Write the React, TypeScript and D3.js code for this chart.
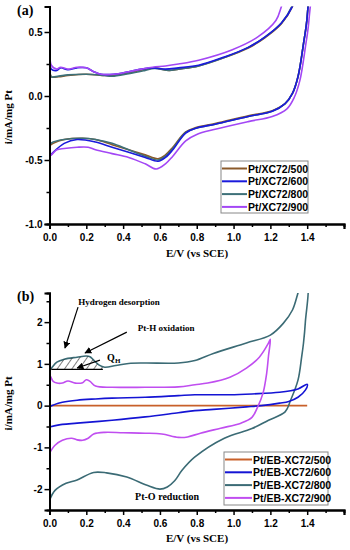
import { useEffect, useRef } from "react";
import * as d3 from "d3";

type Pt = [number, number];

// ---- panel (a): Pt/XC72 series, [E (V vs SCE), i (mA/mg Pt)] ----
const a500: Pt[] = [
  [0, -0.39], [0, 0.2], [0.01, 0.15], [0.05, 0.15], [0.1, 0.16], [0.2, 0.17], [0.3, 0.16],
  [0.34, 0.16], [0.43, 0.18], [0.52, 0.21], [0.57, 0.22], [0.65, 0.2], [0.7, 0.21],
  [0.81, 0.235], [0.95, 0.3], [1.08, 0.375], [1.17, 0.455], [1.26, 0.565], [1.32, 0.7],
  [1.36, 0.9], [1.39, 1.2], [1.41, 1.2], [1.4, 0.62], [1.38, 0.41], [1.35, 0.15],
  [1.32, 0.02], [1.28, -0.06], [1.21, -0.115], [1.08, -0.155], [0.9, -0.215], [0.8, -0.245],
  [0.74, -0.28], [0.67, -0.4], [0.63, -0.46], [0.59, -0.49], [0.52, -0.46], [0.43, -0.42],
  [0.34, -0.38], [0.25, -0.34], [0.18, -0.33], [0.08, -0.34], [0.02, -0.37], [0, -0.39],
];
const a600: Pt[] = [
  [0, -0.47], [0, 0.27], [0.01, 0.21], [0.04, 0.2], [0.06, 0.22], [0.1, 0.205], [0.15, 0.22],
  [0.2, 0.22], [0.24, 0.19], [0.28, 0.17], [0.35, 0.17], [0.43, 0.19], [0.5, 0.21],
  [0.56, 0.22], [0.63, 0.21], [0.7, 0.22], [0.81, 0.24], [0.95, 0.305], [1.08, 0.38],
  [1.17, 0.46], [1.26, 0.57], [1.32, 0.7], [1.36, 0.9], [1.39, 1.2], [1.41, 1.2], [1.4, 0.62],
  [1.38, 0.41], [1.35, 0.15], [1.32, 0.02], [1.28, -0.06], [1.21, -0.12], [1.08, -0.16],
  [0.9, -0.22], [0.8, -0.25], [0.74, -0.29], [0.67, -0.42], [0.63, -0.48], [0.59, -0.51],
  [0.52, -0.48], [0.43, -0.44], [0.34, -0.4], [0.25, -0.36], [0.15, -0.34], [0.08, -0.37],
  [0.02, -0.44], [0, -0.47],
];
const a800: Pt[] = [
  [0, -0.38], [0, 0.19], [0.01, 0.15], [0.05, 0.155], [0.1, 0.165], [0.2, 0.17], [0.3, 0.16],
  [0.34, 0.155], [0.43, 0.175], [0.52, 0.2], [0.57, 0.215], [0.65, 0.2], [0.7, 0.21],
  [0.81, 0.235], [0.95, 0.3], [1.08, 0.38], [1.17, 0.46], [1.26, 0.57], [1.32, 0.71],
  [1.36, 0.9], [1.39, 1.2], [1.41, 1.2], [1.4, 0.62], [1.38, 0.41], [1.35, 0.15],
  [1.32, 0.02], [1.28, -0.06], [1.21, -0.12], [1.08, -0.16], [0.9, -0.22], [0.8, -0.25],
  [0.74, -0.285], [0.67, -0.41], [0.63, -0.47], [0.59, -0.5], [0.52, -0.47], [0.43, -0.42],
  [0.34, -0.37], [0.25, -0.34], [0.18, -0.33], [0.08, -0.34], [0.02, -0.36], [0, -0.38],
];
const a900: Pt[] = [
  [0, -0.47], [0, 0.33], [0.01, 0.24], [0.04, 0.21], [0.06, 0.225], [0.1, 0.21], [0.15, 0.225],
  [0.2, 0.22], [0.24, 0.19], [0.28, 0.17], [0.35, 0.17], [0.43, 0.19], [0.5, 0.21],
  [0.56, 0.225], [0.63, 0.235], [0.7, 0.25], [0.81, 0.28], [0.99, 0.36], [1.13, 0.46],
  [1.23, 0.59], [1.26, 0.7], [1.3, 0.9], [1.34, 1.2], [1.42, 1.2], [1.41, 0.6], [1.39, 0.38],
  [1.36, 0.12], [1.33, -0.01], [1.29, -0.1], [1.21, -0.16], [1.08, -0.2], [0.9, -0.26],
  [0.8, -0.3], [0.74, -0.35], [0.67, -0.47], [0.63, -0.53], [0.58, -0.57], [0.52, -0.53],
  [0.43, -0.48], [0.34, -0.45], [0.25, -0.42], [0.21, -0.4], [0.15, -0.4], [0.08, -0.41],
  [0.04, -0.42], [0.01, -0.46], [0, -0.47],
];

// ---- panel (b): Pt/EB-XC72 series ----
const b500: Pt[] = [[0, 0], [1.4, 0]];
const b600: Pt[] = [
  [0, -0.51], [0, -0.04], [0.03, 0.03], [0.07, 0.08], [0.15, 0.13], [0.25, 0.16], [0.34, 0.18],
  [0.52, 0.2], [0.7, 0.24], [0.79, 0.26], [0.98, 0.26], [1.1, 0.28], [1.25, 0.32], [1.35, 0.4],
  [1.4, 0.51], [1.39, 0.37], [1.35, 0.2], [1.3, 0.1], [1.25, 0.06], [1.15, 0.0], [1.07, -0.03],
  [0.89, -0.09], [0.79, -0.12], [0.7, -0.17], [0.52, -0.27], [0.34, -0.35], [0.15, -0.42],
  [0.07, -0.45], [0, -0.51],
];
const b800: Pt[] = [
  [0, -2.27], [0, 0.8], [0.02, 0.95], [0.04, 1.04], [0.08, 1.11], [0.15, 1.16], [0.2, 1.19],
  [0.22, 1.17], [0.24, 1.09], [0.27, 0.97], [0.3, 0.92], [0.36, 0.96], [0.43, 1.01],
  [0.52, 1.02], [0.7, 1.02], [0.79, 1.08], [0.89, 1.25], [1.07, 1.5], [1.2, 1.69],
  [1.27, 1.97], [1.32, 2.29], [1.35, 2.7], [1.37, 3.0], [1.4, 3.0], [1.39, 2.0], [1.38, 1.5],
  [1.37, 1.17], [1.35, 0.61], [1.31, 0.13], [1.28, -0.15], [1.19, -0.35], [1.1, -0.55],
  [0.95, -0.78], [0.79, -1.23], [0.72, -1.55], [0.68, -1.8], [0.64, -1.95], [0.6, -2.0],
  [0.53, -1.91], [0.42, -1.71], [0.31, -1.61], [0.24, -1.6], [0.15, -1.78], [0.09, -1.86],
  [0.03, -2.03], [0, -2.27],
];
const b900: Pt[] = [
  [0, -1.14], [0, 0.73], [0.02, 0.58], [0.04, 0.54], [0.07, 0.54], [0.1, 0.59], [0.14, 0.54],
  [0.18, 0.55], [0.2, 0.62], [0.22, 0.58], [0.25, 0.47], [0.34, 0.44], [0.52, 0.44],
  [0.7, 0.45], [0.79, 0.5], [0.86, 0.54], [0.98, 0.68], [1.07, 0.9], [1.14, 1.16],
  [1.19, 1.5], [1.2, 1.59], [1.19, 1.2], [1.18, 0.78], [1.16, 0.3], [1.13, -0.04],
  [1.1, -0.28], [1.04, -0.42], [0.93, -0.54], [0.82, -0.66], [0.75, -0.75], [0.7, -0.76],
  [0.61, -0.68], [0.52, -0.66], [0.4, -0.65], [0.3, -0.64], [0.24, -0.68], [0.21, -0.78],
  [0.18, -0.83], [0.15, -0.82], [0.12, -0.78], [0.07, -0.83], [0.03, -0.95], [0, -1.14],
];

// hydrogen desorption charge: baseline current and potential window
const qhBase = 0.87;
const qhRange: [number, number] = [0.01, 0.29];

const labelsA = ["Pt/XC72/500", "Pt/XC72/600", "Pt/XC72/800", "Pt/XC72/900"];
const labelsB = ["Pt/EB-XC72/500", "Pt/EB-XC72/600", "Pt/EB-XC72/800", "Pt/EB-XC72/900"];
const colorsA = ["#8b5a2b", "#1a1adb", "#3d7078", "#a347f5"];
const colorsB = ["#c8602a", "#1414d4", "#3b6b75", "#c04ef0"];

const xTicks = [0, 0.2, 0.4, 0.6, 0.8, 1.0, 1.2, 1.4, 1.6];
const xMinor = [0.1, 0.3, 0.5, 0.7, 0.9, 1.1, 1.3, 1.5];
const yTicksA = [-1.0, -0.5, 0.0, 0.5];
const yMinorA = [-0.75, -0.25, 0.25];
const yTicksB = [-2, -1, 0, 1, 2];
const yMinorB = [-1.5, -0.5, 0.5, 1.5, 2.5];

const SANS = "'Liberation Sans', Arial, sans-serif";
const SERIF = "'Liberation Serif', 'Times New Roman', serif";

export default function App() {
  const ref = useRef<SVGSVGElement>(null);

  useEffect(() => {
    if (!ref.current) return;
    const svg = d3.select(ref.current);
    svg.selectAll("*").remove();

    const defs = svg.append("defs");
    defs
      .append("marker")
      .attr("id", "arr")
      .attr("viewBox", "0 0 10 10")
      .attr("refX", 9)
      .attr("refY", 5)
      .attr("markerWidth", 7)
      .attr("markerHeight", 7)
      .attr("markerUnits", "userSpaceOnUse")
      .attr("orient", "auto")
      .append("path")
      .attr("d", "M0,0 L10,5 L0,10 z")
      .attr("fill", "#000");
    const pat = defs
      .append("pattern")
      .attr("id", "hatch")
      .attr("patternUnits", "userSpaceOnUse")
      .attr("width", 6)
      .attr("height", 6)
      .attr("patternTransform", "rotate(35)");
    pat.append("line").attr("x1", 0).attr("y1", 0).attr("x2", 0).attr("y2", 6)
      .attr("stroke", "#000").attr("stroke-width", 1);

    const x = d3.scaleLinear().domain([0, 1.6]).range([49.5, 344]);

    const drawPanel = (
      key: string,
      y: d3.ScaleLinear<number, number>,
      series: Pt[][],
      colors: string[],
      labels: string[],
      yTicks: number[],
      yMinor: number[],
      yFmt: (v: number) => string,
      tag: string,
      tagY: number,
      titleY: number,
      legend: { x: number; y: number; w: number; h: number; line: number },
    ) => {
      const [y0, y1] = y.range();
      const g = svg.append("g");

      defs.append("clipPath").attr("id", `clip-${key}`)
        .append("rect")
        .attr("x", x(0)).attr("y", y1)
        .attr("width", x(1.6) - x(0)).attr("height", y0 - y1);

      const line = d3.line<Pt>()
        .x((d) => x(d[0]))
        .y((d) => y(d[1]))
        .curve(d3.curveCatmullRom.alpha(0.5));

      const order = [0, 2, 1, 3];
      g.append("g").attr("clip-path", `url(#clip-${key})`)
        .selectAll("path")
        .data(order)
        .join("path")
        .attr("d", (i) => line(series[i]))
        .attr("fill", "none")
        .attr("stroke", (i) => colors[i])
        .attr("stroke-width", 1.6)
        .attr("stroke-linejoin", "round");

      // axes
      const styleAxis = (a: d3.Selection<SVGGElement, unknown, null, undefined>) => {
        a.select(".domain").attr("stroke", "#000").attr("stroke-width", 2);
        a.selectAll("line").attr("stroke", "#000").attr("stroke-width", 1.5);
        a.selectAll("text")
          .attr("font-family", SANS)
          .attr("font-weight", "bold")
          .attr("font-size", 10)
          .attr("fill", "#000");
      };
      g.append("g")
        .attr("transform", `translate(0,${y0})`)
        .call(d3.axisBottom(x).tickValues(xMinor).tickSize(3).tickFormat(() => ""))
        .call(styleAxis);
      g.append("g")
        .attr("transform", `translate(0,${y0})`)
        .call(
          d3.axisBottom(x).tickValues(xTicks).tickSize(5).tickPadding(5)
            .tickFormat((v) => (+v > 1.5 ? "" : (+v).toFixed(1))),
        )
        .call(styleAxis);
      g.append("g")
        .attr("transform", `translate(${x(0)},0)`)
        .call(d3.axisLeft(y).tickValues(yMinor).tickSize(3).tickFormat(() => ""))
        .call(styleAxis);
      g.append("g")
        .attr("transform", `translate(${x(0)},0)`)
        .call(d3.axisLeft(y).tickValues(yTicks).tickSize(5).tickPadding(2)
          .tickFormat((v) => yFmt(+v)))
        .call(styleAxis);

      // titles
      g.append("text")
        .attr("x", 197).attr("y", titleY)
        .attr("text-anchor", "middle")
        .attr("font-family", SERIF).attr("font-weight", "bold").attr("font-size", 11)
        .text("E/V (vs SCE)");
      g.append("text")
        .attr("transform", `translate(12,${(y0 + y1) / 2 + 2}) rotate(-90)`)
        .attr("text-anchor", "middle")
        .attr("font-family", SERIF).attr("font-weight", "bold").attr("font-size", 11)
        .text("i/mA/mg Pt");
      g.append("text")
        .attr("x", 17).attr("y", tagY)
        .attr("font-family", SERIF).attr("font-weight", "bold").attr("font-size", 14)
        .text(tag);

      // legend
      const lg = g.append("g");
      lg.append("rect")
        .attr("x", legend.x).attr("y", legend.y)
        .attr("width", legend.w).attr("height", legend.h)
        .attr("fill", "#fff").attr("stroke", "#888").attr("stroke-width", 1);
      labels.forEach((lab, i) => {
        const cy = legend.y + 7.5 + i * 12.8;
        lg.append("line")
          .attr("x1", legend.x + 1).attr("x2", legend.x + legend.line)
          .attr("y1", cy).attr("y2", cy)
          .attr("stroke", colors[i]).attr("stroke-width", 2);
        lg.append("text")
          .attr("x", legend.x + legend.line + 1).attr("y", cy + 4)
          .attr("font-family", SANS).attr("font-weight", "bold").attr("font-size", 10.5)
          .text(lab);
      });
      return g;
    };

    const fmtA = (v: number) => v.toFixed(1).replace("−", "-");
    const fmtB = (v: number) => String(v);

    const yA = d3.scaleLinear().domain([-1.0, 0.7]).range([224, 6.4]);
    drawPanel("a", yA, [a500, a600, a800, a900], colorsA, labelsA, yTicksA, yMinorA, fmtA,
      "(a)", 15, 257, { x: 221, y: 161, w: 87, h: 52, line: 26 });

    const yB = d3.scaleLinear().domain([-2.5, 2.7]).range([510, 292.9]);
    const gB = drawPanel("b", yB, [b500, b600, b800, b900], colorsB, labelsB, yTicksB, yMinorB, fmtB,
      "(b)", 301, 542, { x: 224, y: 452, w: 104, h: 53, line: 28 });

    // Q_H hatched area under the hydrogen desorption hump
    const hump = b800.slice(1, 12).filter((d) => d[0] >= qhRange[0] && d[0] <= qhRange[1]);
    const area: Pt[] = [[qhRange[0], qhBase], ...hump, [qhRange[1], 0.92], [qhRange[1], qhBase]];
    gB.append("path")
      .attr("d", d3.line<Pt>().x((d) => x(d[0])).y((d) => yB(d[1]))(area))
      .attr("fill", "url(#hatch)")
      .attr("stroke", "none");
    gB.append("line")
      .attr("x1", x(qhRange[0])).attr("x2", x(qhRange[1]))
      .attr("y1", yB(qhBase)).attr("y2", yB(qhBase))
      .attr("stroke", "#000").attr("stroke-width", 1.3);

    // annotations
    const notes: { t: string; e: number; i: number; anchor: string; size: number }[] = [
      { t: "Hydrogen desorption", e: 0.378, i: 2.41, anchor: "middle", size: 9 },
      { t: "Pt-H oxidation", e: 0.48, i: 1.78, anchor: "start", size: 9 },
      { t: "Pt-O reduction", e: 0.465, i: -2.26, anchor: "start", size: 10 },
    ];
    notes.forEach((n) => {
      gB.append("text")
        .attr("x", x(n.e)).attr("y", yB(n.i))
        .attr("text-anchor", n.anchor)
        .attr("font-family", SERIF).attr("font-weight", "bold").attr("font-size", n.size)
        .text(n.t);
    });
    const q = gB.append("text")
      .attr("x", x(0.313)).attr("y", yB(1.07))
      .attr("font-family", SERIF).attr("font-weight", "bold").attr("font-size", 10);
    q.append("tspan").text("Q");
    q.append("tspan").attr("dy", 2).attr("font-size", 7).text("H");

    const arrows: [Pt, Pt][] = [
      [[0.155, 2.36], [0.084, 1.38]],
      [[0.42, 1.76], [0.193, 1.26]],
      [[0.274, 1.09], [0.15, 0.9]],
    ];
    arrows.forEach(([s, e]) => {
      gB.append("line")
        .attr("x1", x(s[0])).attr("y1", yB(s[1]))
        .attr("x2", x(e[0])).attr("y2", yB(e[1]))
        .attr("stroke", "#000").attr("stroke-width", 1.2)
        .attr("marker-end", "url(#arr)");
    });
  }, []);

  return (
    <svg
      ref={ref}
      width={350}
      height={550}
      style={{ position: "absolute", left: 0, top: 0, background: "#fff" }}
    />
  );
}
